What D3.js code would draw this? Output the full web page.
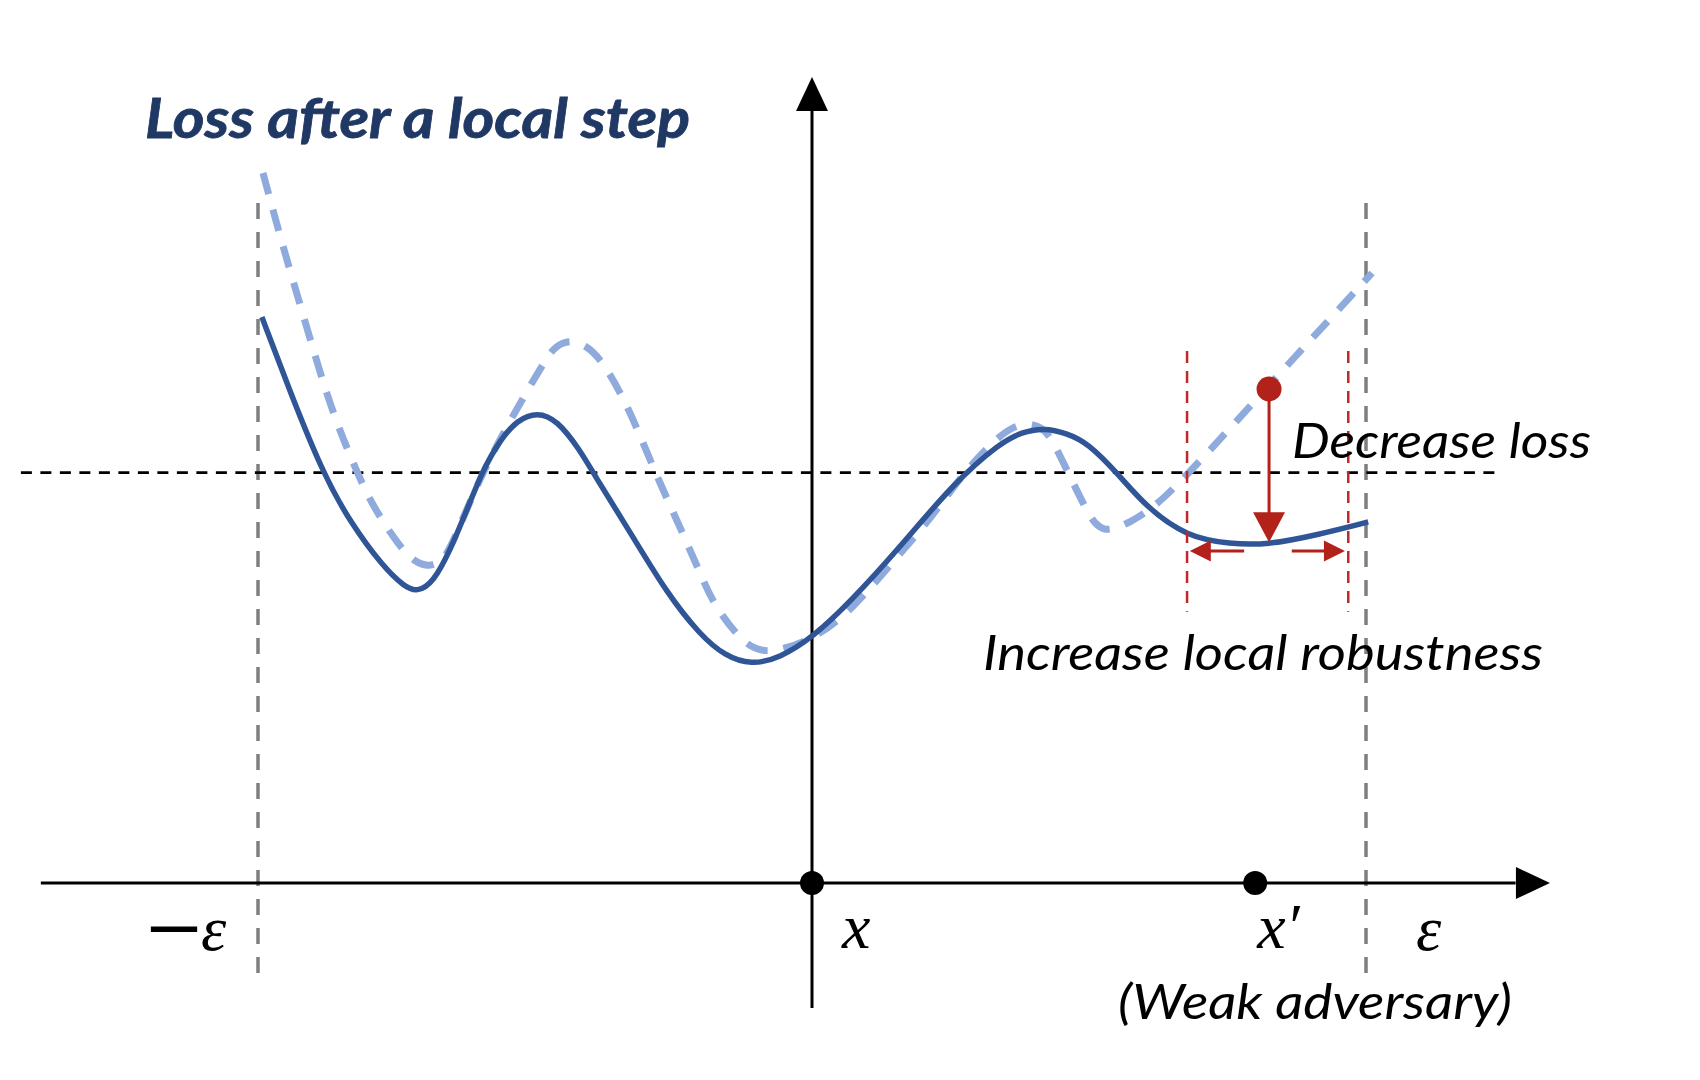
<!DOCTYPE html>
<html>
<head>
<meta charset="utf-8">
<script src="https://cdn.jsdelivr.net/npm/d3@7"></script>
<style>
  body { margin: 0; background: #fff; }
</style>
</head>
<body>
<div id="chart"></div>
<script>
// perturbation axis runs from -eps to eps, loss values
var solidX = [-0.993, -0.942, -0.883, -0.834, -0.774, -0.735, -0.713, -0.684, -0.653, -0.623, -0.594, -0.563,
              -0.532, -0.496, -0.460, -0.419, -0.395, -0.323, -0.262, -0.202, -0.157, -0.110, -0.058, 0.002,
              0.069, 0.159, 0.256, 0.339, 0.379, 0.419, 0.459, 0.498, 0.551, 0.603, 0.677, 0.755,
              0.821, 0.912, 1.004];
var solidY = [7.075, 6.138, 5.125, 4.513, 3.950, 3.700, 3.638, 3.750, 4.163, 4.663, 5.163, 5.538,
              5.788, 5.888, 5.788, 5.413, 5.125, 4.325, 3.625, 3.100, 2.838, 2.725, 2.813, 3.075,
              3.513, 4.200, 5.000, 5.500, 5.638, 5.688, 5.625, 5.500, 5.125, 4.700, 4.325, 4.238,
              4.225, 4.350, 4.513];

var dashedX = [-0.991, -0.955, -0.912, -0.870, -0.821, -0.792, -0.744, -0.717, -0.690, -0.666, -0.648, -0.594,
               -0.527, -0.478, -0.463, -0.437, -0.410, -0.383, -0.334, -0.283, -0.244, -0.202, -0.179, -0.130,
               -0.087, 0.002, 0.072, 0.144, 0.217, 0.273, 0.330, 0.361, 0.390, 0.412, 0.430, 0.466,
               0.498, 0.511, 0.527, 0.545, 0.572, 0.619, 0.677, 0.760, 0.845, 0.930, 1.011];
var dashedY = [8.875, 7.950, 6.950, 5.950, 5.125, 4.700, 4.200, 4.010, 3.950, 4.030, 4.250, 5.163,
               6.000, 6.575, 6.710, 6.788, 6.725, 6.575, 6.000, 5.125, 4.538, 3.875, 3.500, 3.038,
               2.838, 3.038, 3.413, 4.000, 4.575, 5.125, 5.538, 5.700, 5.750, 5.700, 5.600, 5.075,
               4.625, 4.490, 4.413, 4.425, 4.500, 4.700, 5.100, 5.725, 6.375, 7.013, 7.625];

var eps = 1;
var threshold = 5.13;          // horizontal dashed level
var xStart = 0;                // x
var xPrime = 0.80;             // x'
var attackX = 0.825, attackLoss = 6.175, stepLoss = 4.26;   // red dot and arrow tip
var windowX = [0.677, 0.968], windowLoss = [3.39, 6.65];    // red dashed window
var spreadLoss = 4.15, spreadLeft = [0.780, 0.682], spreadRight = [0.866, 0.962];

var svgWidth = 1700, svgHeight = 1080;

var xscale = d3.scaleLinear().domain([-eps, eps]).range([258, 1366]);
var yscale = d3.scaleLinear().domain([0, 10]).range([883, 83]);

var svg = d3.select("#chart").append("svg")
  .attr("width", svgWidth)
  .attr("height", svgHeight);
svg.append("rect").attr("width", svgWidth).attr("height", svgHeight).attr("fill", "#fff");

function tri(tip, dir, len, half) {
  var p = tip, pts;
  if (dir === "up") pts = [[p[0], p[1]], [p[0] - half, p[1] + len], [p[0] + half, p[1] + len]];
  if (dir === "down") pts = [[p[0], p[1]], [p[0] - half, p[1] - len], [p[0] + half, p[1] - len]];
  if (dir === "right") pts = [[p[0], p[1]], [p[0] - len, p[1] - half], [p[0] - len, p[1] + half]];
  if (dir === "left") pts = [[p[0], p[1]], [p[0] + len, p[1] - half], [p[0] + len, p[1] + half]];
  return "M" + pts.map(d => d.join(",")).join("L") + "Z";
}

// eps bounds
svg.selectAll(".bound")
  .data([-eps, eps])
  .enter().append("line")
  .attr("x1", d => xscale(d)).attr("x2", d => xscale(d))
  .attr("y1", yscale(8.5)).attr("y2", yscale(-1.21))
  .attr("stroke", "#7f7f7f").attr("stroke-width", 3.5)
  .attr("stroke-dasharray", "16,13");

// threshold level
svg.append("line")
  .attr("x1", xscale(-1.428)).attr("x2", xscale(1.244))
  .attr("y1", yscale(threshold)).attr("y2", yscale(threshold))
  .attr("stroke", "#000").attr("stroke-width", 2.7)
  .attr("stroke-dasharray", "11,8.5");

// axes
svg.append("line")
  .attr("x1", xscale(-1.392)).attr("x2", xscale(1.27))
  .attr("y1", yscale(0)).attr("y2", yscale(0))
  .attr("stroke", "#000").attr("stroke-width", 3);
svg.append("path")
  .attr("d", tri([xscale(1.332), yscale(0)], "right", 34, 16))
  .attr("fill", "#000");
svg.append("line")
  .attr("x1", xscale(0)).attr("x2", xscale(0))
  .attr("y1", yscale(-1.5625)).attr("y2", yscale(9.7))
  .attr("stroke", "#000").attr("stroke-width", 3);
svg.append("path")
  .attr("d", tri([xscale(0), yscale(10.075)], "up", 34, 16))
  .attr("fill", "#000");

// loss curves
var line = d3.line()
  .x(d => xscale(d[0]))
  .y(d => yscale(d[1]))
  .curve(d3.curveBasis);

svg.append("path")
  .datum(dashedX.map((d, i) => [d, dashedY[i]]))
  .attr("d", line)
  .attr("fill", "none")
  .attr("stroke", "#8faadc").attr("stroke-width", 7)
  .attr("stroke-dasharray", "22,16");

svg.append("path")
  .datum(solidX.map((d, i) => [d, solidY[i]]))
  .attr("d", line)
  .attr("fill", "none")
  .attr("stroke", "#2f5597").attr("stroke-width", 5.5);

// red window
svg.selectAll(".win")
  .data(windowX)
  .enter().append("line")
  .attr("x1", d => xscale(d)).attr("x2", d => xscale(d))
  .attr("y1", yscale(windowLoss[1])).attr("y2", yscale(windowLoss[0]))
  .attr("stroke", "#c0282a").attr("stroke-width", 2.5)
  .attr("stroke-dasharray", "12,8");

var red = "#b2211a";
svg.append("line")
  .attr("x1", xscale(attackX)).attr("x2", xscale(attackX))
  .attr("y1", yscale(attackLoss)).attr("y2", yscale(stepLoss) - 28)
  .attr("stroke", red).attr("stroke-width", 3);
svg.append("path")
  .attr("d", tri([xscale(attackX), yscale(stepLoss)], "down", 30, 16))
  .attr("fill", red);
svg.append("circle")
  .attr("cx", xscale(attackX)).attr("cy", yscale(attackLoss)).attr("r", 12.5)
  .attr("fill", red);

[spreadLeft, spreadRight].forEach(function (s) {
  var dir = s[1] > s[0] ? "right" : "left";
  var sign = s[1] > s[0] ? -1 : 1;
  svg.append("line")
    .attr("x1", xscale(s[0])).attr("x2", xscale(s[1]) + sign * 20)
    .attr("y1", yscale(spreadLoss)).attr("y2", yscale(spreadLoss))
    .attr("stroke", red).attr("stroke-width", 3);
  svg.append("path")
    .attr("d", tri([xscale(s[1]), yscale(spreadLoss)], dir, 21, 10.5))
    .attr("fill", red);
});

// points on the axis
svg.selectAll(".pt")
  .data([xStart, xPrime])
  .enter().append("circle")
  .attr("cx", d => xscale(d)).attr("cy", yscale(0)).attr("r", 12)
  .attr("fill", "#000");

// text
function label(txt, x, y, size, len) {
  var t = svg.append("text")
    .attr("x", x).attr("y", y)
    .attr("font-family", "Lato, 'Open Sans', sans-serif")
    .attr("font-style", "italic")
    .attr("font-size", size)
    .attr("fill", "#000")
    .text(txt);
  if (len) t.attr("textLength", len).attr("lengthAdjust", "spacingAndGlyphs");
  return t;
}
label("Loss after a local step", 145, 138, 56, 545)
  .attr("font-weight", "bold").attr("fill", "#203864")
  .attr("stroke", "#203864").attr("stroke-width", 0.8);
label("Decrease loss", 1292, 458, 49, 299);
label("Increase local robustness", 983, 670, 49, 560);
label("(Weak adversary)", 1118, 1019, 49, 394);

function mathLabel(txt, x, y) {
  return svg.append("text")
    .attr("x", x).attr("y", y)
    .attr("font-family", "'Liberation Serif', 'DejaVu Serif', serif")
    .attr("font-style", "italic")
    .attr("font-size", 64)
    .attr("fill", "#000")
    .text(txt);
}
mathLabel("x", xscale(xStart) + 30, 948);
mathLabel("x\u2032", xscale(xPrime) + 2, 948);
mathLabel("\u03b5", xscale(eps) + 50, 950);
mathLabel("\u03b5", xscale(-eps) - 57, 950);
svg.append("text")
  .attr("x", xscale(-eps) - 115).attr("y", 950)
  .attr("font-family", "'DejaVu Sans', sans-serif")
  .attr("font-size", 66)
  .attr("textLength", 62).attr("lengthAdjust", "spacingAndGlyphs")
  .attr("fill", "#000")
  .text("\u2212");
</script>
</body>
</html>
